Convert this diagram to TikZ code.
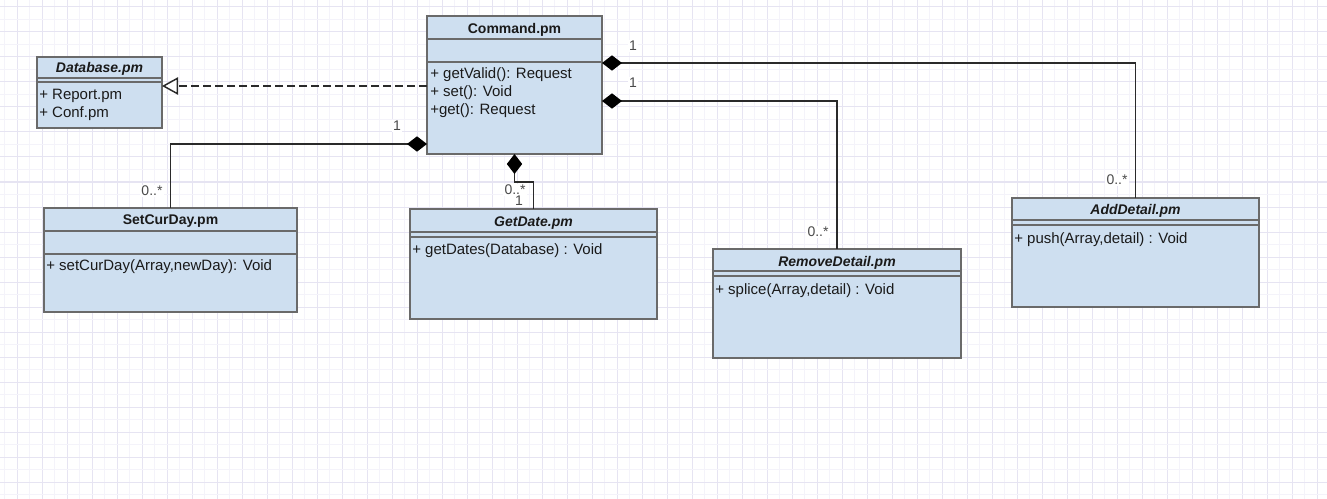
\documentclass[tikz,border=0pt]{standalone}
\usepackage{fontspec}
\setmainfont{Liberation Sans}
\usetikzlibrary{arrows.meta,calc}
\definecolor{classfill}{HTML}{CEDFF0}
\definecolor{classline}{HTML}{6A6A6A}
\definecolor{wire}{HTML}{2A2A2A}
\definecolor{gridmajor}{HTML}{E6E4F2}
\definecolor{gridminor}{HTML}{F4F3FA}
\definecolor{labelgray}{HTML}{4A4A4A}
\definecolor{ink}{HTML}{1A1A1A}
\begin{document}
\begin{tikzpicture}[x=0.75pt,y=-0.75pt,
  classbox/.style={draw=classline, line width=1.7pt, fill=classfill, anchor=north west, inner sep=0pt, outer sep=0pt},
  sepline/.style={draw=classline, line width=1.7pt},
  headtext/.style={inner sep=0pt, text=ink, font=\fontsize{10.5}{12}\selectfont\bfseries},
  abstracthead/.style={headtext, font=\fontsize{10.5}{12}\selectfont\bfseries\itshape},
  member/.style={anchor=west, inner sep=0pt, text=ink, font=\fontsize{11.25}{13}\selectfont},
  mult/.style={fill=white, inner sep=1pt, text=labelgray, font=\fontsize{10.5}{12}\selectfont},
  comp/.style={draw=wire, line width=1.1pt, {Diamond[length=15pt,width=11.5pt,color=black]}-{}},
  realize/.style={draw=wire, line width=1.1pt, dash pattern=on 6pt off 3pt,
    -{Triangle[open,length=12pt,width=13pt,fill=white]}},
]
% page and background grid
\useasboundingbox (0,0) rectangle (1327,499);
\fill[white] (0,0) rectangle (1327,499);
\foreach \k in {0,...,53} {
  \draw[gridminor, line width=0.75pt] ({4.5+25*\k},0) -- ({4.5+25*\k},499);
  \draw[gridmajor, line width=0.75pt] ({17+25*\k},0) -- ({17+25*\k},499);
}
\foreach \k in {0,...,19} {
  \draw[gridminor, line width=0.75pt] (0,{19.5+25*\k}) -- (1327,{19.5+25*\k});
  \draw[gridmajor, line width=0.75pt] (0,{7+25*\k}) -- (1327,{7+25*\k});
}

% Command.pm
\node[classbox, minimum width=131.25pt, minimum height=103.5pt] (cmd) at (427,16) {};
\draw[sepline] (cmd.north west) ++(0,23) -- ++(175,0);
\draw[sepline] (cmd.north west) ++(0,46) -- ++(175,0);
\node[headtext] (cmdh) at (514.5,29.5) {Command.pm};
\node[member] (cmd1) at (430,75) {+ getValid(): Request};
\node[member] (cmd2) at (430,93) {+ set(): Void};
\node[member] (cmd3) at (430,111) {+get(): Request};

% Database.pm
\node[classbox, minimum width=93.75pt, minimum height=53.25pt] (db) at (37,57) {};
\draw[sepline] (db.north west) ++(0,21) -- ++(125,0);
\draw[sepline] (db.north west) ++(0,25) -- ++(125,0);
\node[abstracthead] (dbh) at (99.5,69) {Database.pm};
\node[member] (db1) at (39,96) {+ Report.pm};
\node[member] (db2) at (39,114) {+ Conf.pm};

% SetCurDay.pm
\node[classbox, minimum width=189.75pt, minimum height=78pt] (setcur) at (44,208) {};
\draw[sepline] (setcur.north west) ++(0,23) -- ++(253,0);
\draw[sepline] (setcur.north west) ++(0,46) -- ++(253,0);
\node[headtext] (setcurh) at (170.5,221) {SetCurDay.pm};
\node[member] (setcur1) at (46,267) {+ setCurDay(Array,newDay): Void};

% GetDate.pm
\node[classbox, minimum width=185.25pt, minimum height=82.5pt] (getdate) at (410,209) {};
\draw[sepline] (getdate.north west) ++(0,23) -- ++(247,0);
\draw[sepline] (getdate.north west) ++(0,28) -- ++(247,0);
\node[abstracthead] (getdateh) at (533.5,223) {GetDate.pm};
\node[member] (getdate1) at (412,251) {+ getDates(Database) : Void};

% RemoveDetail.pm
\node[classbox, minimum width=186pt, minimum height=81.75pt] (remdet) at (713,249) {};
\draw[sepline] (remdet.north west) ++(0,22) -- ++(248,0);
\draw[sepline] (remdet.north west) ++(0,27) -- ++(248,0);
\node[abstracthead] (remdeth) at (837,262.5) {RemoveDetail.pm};
\node[member] (remdet1) at (715,291) {+ splice(Array,detail) : Void};

% AddDetail.pm
\node[classbox, minimum width=185.25pt, minimum height=81.75pt] (adddet) at (1012,198) {};
\draw[sepline] (adddet.north west) ++(0,22) -- ++(247,0);
\draw[sepline] (adddet.north west) ++(0,27) -- ++(247,0);
\node[abstracthead] (adddeth) at (1135.5,211) {AddDetail.pm};
\node[member] (adddet1) at (1014,240) {+ push(Array,detail) : Void};

% associations
\draw[realize] ($(cmd.north west)+(0,70)$) coordinate (rs) -- (rs -| db.east);
\draw[comp] ($(cmd.north east)+(0,47)$) -| (adddet.north);
\draw[comp] ($(cmd.north east)+(0,85)$) -| (remdet.north);
\draw[comp] ($(cmd.north west)+(0,128)$) -| (setcur.north);
\draw[comp] (cmd.south) -- ++(0,28) -| (getdate.north);

% multiplicities
\node[mult] (madd1) at (633,46) {1};
\node[mult] (mrem1) at (633,83) {1};
\node[mult] (mset1) at (397,126) {1};
\node[mult] (mset0) at (152,191) {0..*};
\node[mult] (mrem0) at (818,232) {0..*};
\node[mult] (madd0) at (1117,180) {0..*};
\node[mult] (mget0) at (515,190) {0..*};
\node[mult] (mget1) at (519,201) {1};
\end{tikzpicture}
\end{document}
